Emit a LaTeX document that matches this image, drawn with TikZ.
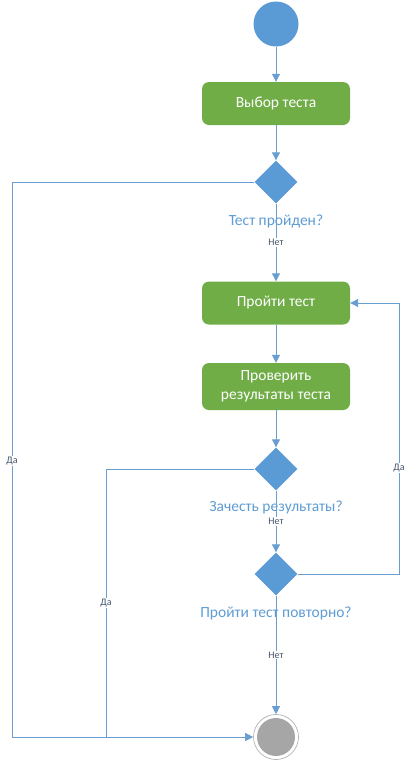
\documentclass[tikz,border=0pt]{standalone}
\usepackage{fontspec}
\setmainfont{Carlito}
\usetikzlibrary{shapes.geometric,arrows.meta}
\definecolor{actgreen}{HTML}{70AD47}
\definecolor{dblue}{HTML}{5B9BD5}
\definecolor{lineblue}{HTML}{6A9ED2}
\definecolor{lblblue}{HTML}{5E9CD3}
\definecolor{edgegray}{HTML}{44546A}
\tikzset{
  actbox/.style={draw=none,fill=actgreen,rounded corners=7pt,minimum width=148pt,minimum height=43pt,text=white,font=\fontsize{15.5}{19}\selectfont,align=center,inner sep=0pt},
  decis/.style={diamond,fill=dblue,draw=none,minimum width=43pt,minimum height=43pt,inner sep=0pt},
  qlabel/.style={text=lblblue,font=\fontsize{15.5}{19}\selectfont,inner sep=0pt},
  elabel/.style={text=edgegray,font=\fontsize{10}{11}\selectfont,fill=white,inner sep=1pt},
  conn/.style={draw=lineblue,line width=1pt},
  arr/.style={conn,-{Triangle[width=8pt,length=8pt]}},
}
\begin{document}
\begin{tikzpicture}[x=1pt,y=-1pt]
\useasboundingbox (0,0) rectangle (411,761);
\node[circle,fill=dblue,minimum size=45pt,inner sep=0pt] (start) at (276,24) {};
\node[actbox] (vybor) at (276,103.5) {Выбор теста};
\node[decis] (d1) at (276,182) {};
\node[qlabel] (q1) at (276,221) {Тест пройден?};
\node[actbox] (proiti) at (276,303) {Пройти тест};
\node[actbox,minimum height=47pt] (prov) at (276,386.5) {Проверить\\результаты теста};
\node[decis] (d2) at (276,469) {};
\node[qlabel] (q2) at (276,507) {Зачесть результаты?};
\node[decis] (d3) at (276,574) {};
\node[qlabel] (q3) at (276,613) {Пройти тест повторно?};
\node[circle,draw=gray!70,line width=0.6pt,minimum size=45pt,inner sep=0pt] (end) at (276,737) {};
\node[circle,fill=black!35,minimum size=38pt,inner sep=0pt] (endin) at (end.center) {};
\coordinate (c1a) at (12,182);
\coordinate (c1b) at (12,737);
\coordinate (c2a) at (106,469);
\coordinate (c2b) at (106,737);
\coordinate (c3a) at (399,574);
\coordinate (c3b) at (399,303);
\draw[arr] (start) -- (vybor);
\draw[arr] (vybor) -- (d1);
\draw[arr] (d1) -- node[elabel,pos=0.5] {Нет} (proiti);
\draw[arr] (proiti) -- (prov);
\draw[arr] (prov) -- (d2);
\draw[arr] (d2) -- node[elabel,pos=0.5] {Нет} (d3);
\draw[arr] (d3) -- node[elabel,pos=0.5] {Нет} (end);
\draw[conn] (d1.west) -- (c1a) -- node[elabel,pos=0.503] {Да} (c1b);
\draw[arr] (c1b) -- (end.west);
\draw[conn] (d2.west) -- (c2a) -- node[elabel,pos=0.5] {Да} (c2b);
\draw[arr] (d3.east) -- (c3a) -- node[elabel,pos=0.39] {Да} (c3b) -- (proiti.east);
\end{tikzpicture}
\end{document}
